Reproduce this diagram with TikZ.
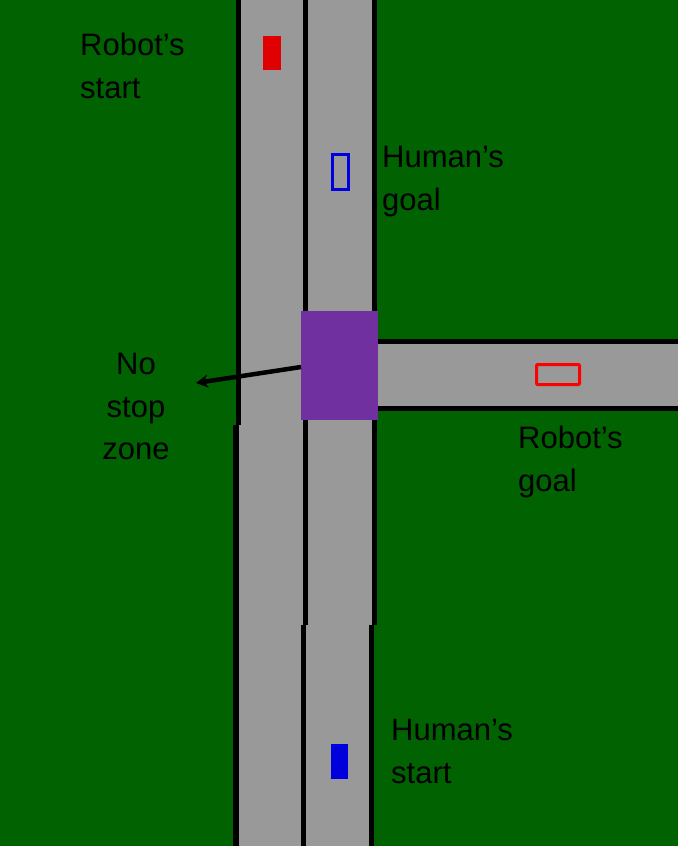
\documentclass[tikz,border=0pt]{standalone}
\usepackage{fontspec}
\setmainfont{Liberation Sans}
\usetikzlibrary{arrows.meta}
\begin{document}
\begin{tikzpicture}[x=1pt,y=-1pt,
  lbl/.style={align=left,anchor=north west,inner sep=0pt,font=\fontsize{31}{42.5}\selectfont},
  lblc/.style={align=center,anchor=north,inner sep=0pt,font=\fontsize{31}{42.5}\selectfont},
  edge/.style={line width=5.5pt}]
\fill[fill={rgb,255:red,0;green,98;blue,0}] (0,0) rectangle (678,846);
\useasboundingbox (0,0) rectangle (678,846);
\fill[fill={rgb,255:red,153;green,153;blue,153}] (238,0) rectangle (374,846);
\fill[fill={rgb,255:red,153;green,153;blue,153}] (374,342) rectangle (678,408);
% lane lines
\draw[edge] (238.5,0) -- (238.5,425);
\draw[edge] (236,425) -- (236,846);
\draw[edge] (305.5,0) -- (305.5,311);
\draw[edge] (305.5,420) -- (305.5,625);
\draw[edge] (303.5,625) -- (303.5,846);
\draw[edge] (374.5,0) -- (374.5,311);
\draw[edge] (374.5,420) -- (374.5,625);
\draw[edge] (371.5,625) -- (371.5,846);
\draw[edge] (378,341.5) -- (678,341.5);
\draw[edge] (378,408.5) -- (678,408.5);
% zone
\node[fill={rgb,255:red,112;green,48;blue,160},minimum width=77pt,minimum height=109pt,inner sep=0pt,anchor=north west] (zone) at (301,311) {};
\coordinate (za) at (301,367);
\coordinate (ztip) at (196,383);
\draw[line width=4.5pt,-{Stealth[length=12pt,width=13pt]}] (za) -- (ztip);
% cars
\fill[fill={rgb,255:red,224;green,0;blue,0}] (263,36) rectangle (281,70);
\draw[line width=3pt,draw={rgb,255:red,0;green,0;blue,220}] (332.5,154.5) rectangle (348.5,189.5);
\fill[fill={rgb,255:red,0;green,0;blue,220}] (331,744) rectangle (348,779);
\draw[line width=3pt,draw={rgb,255:red,255;green,0;blue,0},rounded corners=1pt] (536.5,364.5) rectangle (579.5,384.5);
% labels
\node[lbl] (rs) at (80,33) {Robot’s\\start};
\node[lbl] (hg) at (382,146) {Human’s\\goal};
\node[lblc] (ns) at (136,353) {No\\stop\\zone};
\node[lbl] (rg) at (518,426) {Robot’s\\goal};
\node[lbl] (hs) at (391,719) {Human’s\\start};
\end{tikzpicture}
\end{document}
